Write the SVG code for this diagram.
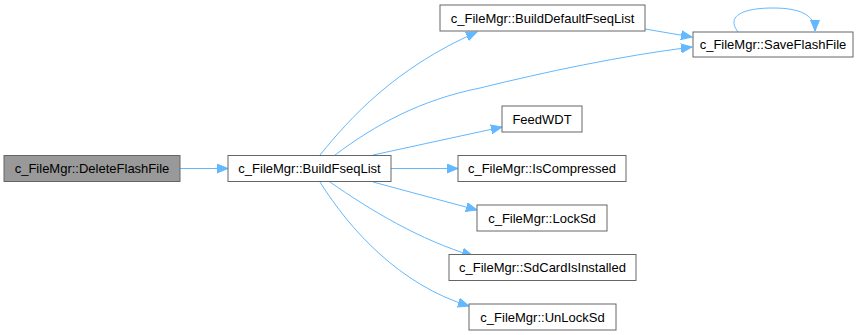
<svg xmlns="http://www.w3.org/2000/svg" width="866" height="335" viewBox="0 0 866 335">
  <style>
    .node rect { fill: #ffffff; stroke: #666666; stroke-width: 1; }
    .node.root rect { fill: #999999; }
    .node text { font-family: "Liberation Sans", Arial, sans-serif; font-size: 13px; fill: #000000; text-anchor: middle; }
    .edge { fill: none; stroke: #63b8ff; stroke-width: 1; marker-end: url(#arrow); }
  </style>
  <defs>
    <marker id="arrow" markerUnits="userSpaceOnUse" markerWidth="12" markerHeight="10" refX="11" refY="5" orient="auto">
      <path d="M0,0.5 L11,5 L0,9.5 Z" fill="#63b8ff" stroke="#63b8ff"/>
    </marker>
  </defs>
  <rect width="866" height="335" fill="#ffffff"/>

  <g id="edges">
    <path class="edge" d="M180,168.5 L228,168.5"/>
    <path class="edge" d="M320,155 C350,118 395,68 477,32"/>
    <path class="edge" d="M335,155 C375,125 420,100 480,88 C545,72 620,56 692,47"/>
    <path class="edge" d="M645,29 L692,37"/>
    <path class="edge" d="M738,32 C725,15 745,8 773,8 C800,8 815,15 815,31"/>
    <path class="edge" d="M373,155 L502,127"/>
    <path class="edge" d="M391,168.5 L458,168.5"/>
    <path class="edge" d="M373,182 L477,210"/>
    <path class="edge" d="M330,182 C370,210 420,240 473,256"/>
    <path class="edge" d="M320,182 C350,230 400,285 469,306"/>
  </g>

  <g id="node-DeleteFlashFile" class="node root">
    <rect x="4" y="155.5" width="176" height="26"/>
    <text x="92" y="173">c_FileMgr::DeleteFlashFile</text>
  </g>
  <g id="node-BuildFseqList" class="node">
    <rect x="228" y="155.5" width="163" height="26"/>
    <text x="309.5" y="173">c_FileMgr::BuildFseqList</text>
  </g>
  <g id="node-BuildDefaultFseqList" class="node">
    <rect x="440" y="5" width="205" height="26"/>
    <text x="542.5" y="22.5">c_FileMgr::BuildDefaultFseqList</text>
  </g>
  <g id="node-SaveFlashFile" class="node">
    <rect x="693" y="32" width="160" height="25"/>
    <text x="773" y="49">c_FileMgr::SaveFlashFile</text>
  </g>
  <g id="node-FeedWDT" class="node">
    <rect x="502" y="106" width="80" height="26"/>
    <text x="542" y="123.5">FeedWDT</text>
  </g>
  <g id="node-IsCompressed" class="node">
    <rect x="458" y="155.5" width="168" height="26"/>
    <text x="542" y="173">c_FileMgr::IsCompressed</text>
  </g>
  <g id="node-LockSd" class="node">
    <rect x="477" y="205" width="130" height="26"/>
    <text x="542" y="222.5">c_FileMgr::LockSd</text>
  </g>
  <g id="node-SdCardIsInstalled" class="node">
    <rect x="449" y="254.5" width="187" height="26"/>
    <text x="542.5" y="272">c_FileMgr::SdCardIsInstalled</text>
  </g>
  <g id="node-UnLockSd" class="node">
    <rect x="469" y="304" width="147" height="26"/>
    <text x="542.5" y="321.5">c_FileMgr::UnLockSd</text>
  </g>
</svg>
